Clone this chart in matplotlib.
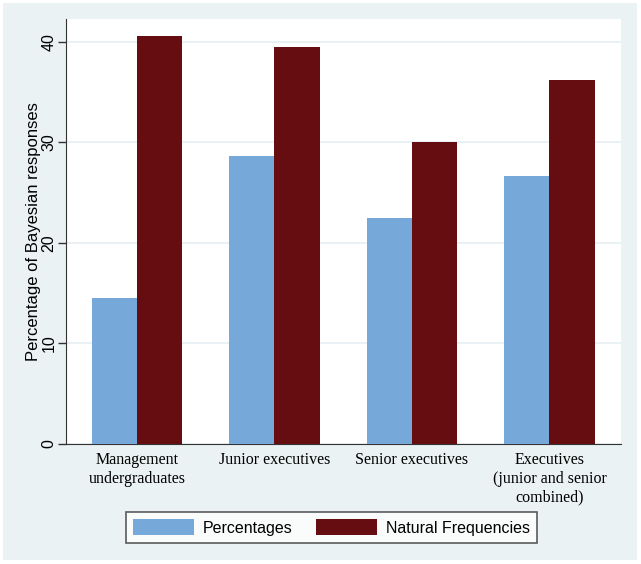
import numpy as np
import matplotlib
matplotlib.use("Agg")
import matplotlib.pyplot as plt
from matplotlib.patches import Rectangle

# datos
grupos = ["Management\nundergraduates", "Junior executives", "Senior executives",
          "Executives\n(junior and senior\ncombined)"]
porcentajes = [14.5, 28.6, 22.5, 26.6]
frec_naturales = [40.6, 39.5, 30.0, 36.2]
series = ["Percentages", "Natural Frequencies"]

azul = "#76A9DA"
rojo = "#650D10"
fondo = "#EAF2F3"

fig = plt.figure(figsize=(6.41, 5.64), dpi=100)
fig.patch.set_facecolor("white")
# marco exterior estilo Stata
fig.patches.append(Rectangle((3 / 641, 1 - 560 / 564), 634 / 641, 557 / 564,
                             transform=fig.transFigure, facecolor=fondo,
                             edgecolor="none", zorder=-1))

ax = fig.add_axes([66 / 641, 1 - 444 / 564, 555 / 641, 425 / 564])
ax.set_facecolor("white")

x = np.arange(len(grupos))
ancho = 0.33
ax.bar(x - ancho / 2, porcentajes, ancho, color=azul, label=series[0], zorder=3)
ax.bar(x + ancho / 2, frec_naturales, ancho, color=rojo, label=series[1], zorder=3)

ax.set_xlim(-0.516, 3.52)
ax.set_ylim(0, 42.25)
ax.set_yticks([0, 10, 20, 30, 40])
ax.set_yticklabels(["0", "10", "20", "30", "40"], rotation=90, va="center",
                   family="Liberation Sans", fontsize=11.5)
ax.yaxis.grid(True, color="#E6EFF3", linewidth=1.2, zorder=0)
ax.set_axisbelow(True)

ax.set_xticks(x)
ax.set_xticklabels(grupos, family="Liberation Serif", fontsize=11.5, linespacing=1.22)
ax.tick_params(axis="x", length=0, pad=6)
ax.tick_params(axis="y", length=6, width=1, color="#333333", pad=1)

for s in ["top", "right"]:
    ax.spines[s].set_visible(False)
ax.spines["left"].set_color("#333333")
ax.spines["bottom"].set_color("#333333")

ax.set_ylabel("Percentage of Bayesian responses", family="Liberation Sans",
              fontsize=12, labelpad=0)

leg = fig.legend(loc="center", bbox_to_anchor=(331.5 / 641, 1 - 527.5 / 564),
                 ncol=2, frameon=True, fancybox=False, edgecolor="#333333",
                 prop={"family": "Liberation Sans", "size": 11.5},
                 handlelength=3.8, handleheight=1.1, columnspacing=1.5,
                 handletextpad=0.55, borderpad=0.45, borderaxespad=0)
leg.get_frame().set_linewidth(1.2)

fig.savefig("out.png", dpi=100, facecolor=fig.get_facecolor())
